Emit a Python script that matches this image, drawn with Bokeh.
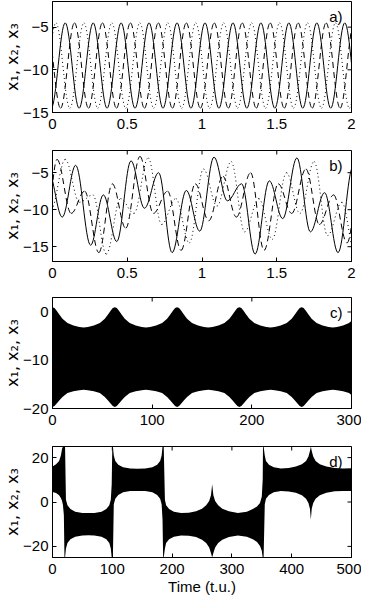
import numpy as np
from bokeh.plotting import figure
from bokeh.layouts import column
from bokeh.models import FixedTicker, Label, Range1d
from bokeh.embed import file_html
from bokeh.resources import INLINE

# ---------------- data ----------------
# panel a: extrema (time, value) of the three oscillators
a_solid_t = [-0.009, 0.085, 0.178, 0.272, 0.365, 0.459, 0.552, 0.646, 0.739, 0.833, 0.926, 1.020,
             1.113, 1.207, 1.300, 1.394, 1.487, 1.581, 1.674, 1.768, 1.861, 1.955, 2.048]
a_solid_v = [-14.5, -4.5] * 11 + [-14.5]
a_dash_t = [-0.040, 0.054, 0.147, 0.241, 0.334, 0.428, 0.521, 0.615, 0.708, 0.802, 0.895, 0.989,
            1.082, 1.176, 1.269, 1.363, 1.456, 1.550, 1.643, 1.737, 1.830, 1.924, 2.017]
a_dash_v = [-4.5, -14.5] * 11 + [-4.5]
a_dot_t = [-0.071, 0.023, 0.116, 0.210, 0.303, 0.397, 0.490, 0.584, 0.677, 0.771, 0.864, 0.958,
           1.051, 1.145, 1.238, 1.332, 1.425, 1.519, 1.612, 1.706, 1.799, 1.893, 1.986, 2.080]
a_dot_v = [-14.5, -4.5] * 12

# panel b: extrema (time, value)
b_solid_t = [-0.025, 0.065, 0.155, 0.255, 0.340, 0.430, 0.525, 0.615, 0.710, 0.800, 0.895, 0.985,
             1.080, 1.170, 1.265, 1.355, 1.450, 1.540, 1.635, 1.725, 1.820, 1.910, 2.010, 2.100]
b_solid_v = [-5.0, -11.0, -4.0, -14.8, -8.0, -14.3, -3.4, -9.8, -5.0, -15.8, -7.4, -12.9,
             -2.9, -8.8, -6.5, -16.0, -6.1, -11.2, -3.0, -13.0, -7.7, -15.8, -4.2, -12.0]
b_dash_t = [-0.030, 0.030, 0.125, 0.215, 0.310, 0.400, 0.490, 0.585, 0.675, 0.770, 0.860, 0.955,
            1.045, 1.140, 1.230, 1.325, 1.415, 1.510, 1.600, 1.695, 1.785, 1.880, 1.970, 2.060]
b_dash_v = [-10.0, -3.2, -10.5, -7.5, -15.8, -6.5, -12.5, -2.8, -10.5, -7.5, -15.5, -6.5,
            -11.5, -5.5, -11.0, -5.0, -15.5, -6.5, -10.5, -4.5, -12.0, -8.0, -14.5, -5.0]
b_dot_t = [-0.010, 0.085, 0.180, 0.270, 0.360, 0.455, 0.545, 0.640, 0.730, 0.825, 0.915, 1.010,
           1.100, 1.195, 1.285, 1.380, 1.470, 1.565, 1.655, 1.750, 1.840, 1.935, 2.025]
b_dot_v = [-10.0, -3.2, -9.0, -8.0, -16.0, -8.5, -10.5, -3.0, -12.0, -8.5, -14.5, -4.5,
           -9.5, -3.5, -13.0, -8.5, -14.0, -5.0, -10.5, -3.5, -13.5, -9.0, -16.0]

# panel c: envelope of the dense oscillation
c_t = [0, 2, 4, 7, 10, 15, 21, 27, 31.25,
       35.5, 41.5, 47.5, 52.5, 55.5, 58.5, 60.5, 62.5, 64.5, 66.5, 69.5, 72.5, 77.5, 83.5, 89.5, 93.75,
       98, 104, 110, 115, 118, 121, 123, 125, 127, 129, 132, 135, 140, 146, 152, 156.25,
       160.5, 166.5, 172.5, 177.5, 180.5, 183.5, 185.5, 187.5, 189.5, 191.5, 194.5, 197.5, 202.5, 208.5, 214.5, 218.75,
       223, 229, 235, 240, 243, 246, 248, 250, 252, 254, 257, 260, 265, 271, 277, 281.25,
       285.5, 291.5, 297.5, 300]
c_upper = [1.0, 0.8, 0.3, -0.6, -1.4, -2.3, -2.8, -3.1, -3.2,
           -3.1, -2.8, -2.3, -1.4, -0.6, 0.3, 0.8, 1.0, 0.8, 0.3, -0.6, -1.4, -2.3, -2.8, -3.1, -3.2,
           -3.1, -2.8, -2.3, -1.4, -0.6, 0.3, 0.8, 1.0, 0.8, 0.3, -0.6, -1.4, -2.3, -2.8, -3.1, -3.2,
           -3.1, -2.8, -2.3, -1.4, -0.6, 0.3, 0.8, 1.0, 0.8, 0.3, -0.6, -1.4, -2.3, -2.8, -3.1, -3.2,
           -3.1, -2.8, -2.3, -1.4, -0.6, 0.3, 0.8, 1.0, 0.8, 0.3, -0.6, -1.4, -2.3, -2.8, -3.1, -3.2,
           -3.1, -2.8, -2.3, -1.8]
c_lower = [-19.7, -19.5, -19.0, -18.3, -17.6, -16.8, -16.4, -16.2, -16.1,
           -16.2, -16.4, -16.8, -17.6, -18.3, -19.0, -19.5, -19.7, -19.5, -19.0, -18.3, -17.6, -16.8, -16.4, -16.2, -16.1,
           -16.2, -16.4, -16.8, -17.6, -18.3, -19.0, -19.5, -19.7, -19.5, -19.0, -18.3, -17.6, -16.8, -16.4, -16.2, -16.1,
           -16.2, -16.4, -16.8, -17.6, -18.3, -19.0, -19.5, -19.7, -19.5, -19.0, -18.3, -17.6, -16.8, -16.4, -16.2, -16.1,
           -16.2, -16.4, -16.8, -17.6, -18.3, -19.0, -19.5, -19.7, -19.5, -19.0, -18.3, -17.6, -16.8, -16.4, -16.2, -16.1,
           -16.2, -16.4, -16.8, -17.2]

# panel d: envelope of the dense oscillation
d_t = [0, 6, 11, 14, 16, 17.5, 19, 20, 21,
       22.5, 25, 30, 38, 50, 60, 70, 82, 90, 95, 97.5, 99, 100, 101,
       102.5, 105, 110, 118, 130, 142, 155, 167, 175, 180, 182.5, 184, 185, 186,
       188, 190, 195, 203, 215, 228, 240, 250, 257, 262, 265, 267, 269, 272, 277, 284, 295, 310,
       325, 335, 342, 347, 350, 351.5, 352, 353,
       355, 357, 362, 370, 382, 395, 407, 417, 424, 428, 430.5, 432, 433.5, 436, 440, 447, 458, 472, 486, 500]
d_upper = [16, 17, 18.5, 21, 24, 25, 25, 25, 25,
           1, -1.5, -3.2, -4.4, -4.9, -5.0, -4.9, -4.4, -3.2, -1.5, 1, 8, 25, 25,
           21, 18.5, 16.8, 15.6, 15.1, 15.0, 15.1, 15.6, 16.8, 18.5, 21, 25, 25, 25,
           1, -1.5, -3.2, -4.4, -4.9, -4.8, -4.2, -3.0, -1.5, 0.5, 3, 8, 3, 0.5, -1.5, -3.0, -4.2, -4.9,
           -4.4, -3.2, -2.0, -0.5, 2.5, 10, 25, 25,
           21, 18.5, 16.8, 15.6, 15.1, 15.3, 16.0, 17.0, 18.5, 20.5, 23, 25, 23, 20.5, 18.5, 17.0, 16.0, 15.3, 15.1, 15.2]
d_lower = [4.5, 4.0, 3.0, 1.8, 0.5, -1.5, -6, -25, -25,
           -21, -18.5, -16.8, -15.6, -15.1, -15.0, -15.1, -15.6, -16.8, -18.5, -21, -25, -25, -25,
           -1, 1.5, 3.2, 4.4, 4.9, 5.0, 4.9, 4.4, 3.2, 1.5, -1, -8, -25, -25,
           -21, -18.5, -16.8, -15.6, -15.1, -15.2, -15.8, -17.0, -18.5, -20.5, -23, -25, -23, -20.5, -18.5, -17.0, -15.8, -15.1,
           -15.6, -16.8, -18.0, -19.8, -22, -25, -25, -25,
           -1, 1.5, 3.2, 4.4, 4.9, 4.7, 4.2, 3.0, 1.5, -0.5, -3, -8, -3, -0.5, 1.5, 3.0, 4.2, 4.8, 5.0, 5.0]

# axes
ab_xticks = [0, 0.5, 1, 1.5, 2]
c_xticks = [0, 100, 200, 300]
d_xticks = [0, 100, 200, 300, 400, 500]
a_yticks = [-15, -10, -5]
b_yticks = [-15, -10, -5]
c_yticks = [-20, -10, 0]
d_yticks = [-20, 0, 20]
panel_tags = ["a)", "b)", "c)", "d)"]
y_title = "x\u2081, x\u2082, x\u2083"
x_title = "Time (t.u.)"

FONT = "Liberation Sans"
FS = "15px"
K = 0.36


def lbl(v):
    s = ("%g" % v)
    return s.replace("-", "\u2212")


def make_fig(xr, yr, xticks, yticks, top, bottom, tag, xlabel=None):
    p = figure(frame_width=299, frame_height=111, x_range=Range1d(*xr), y_range=Range1d(*yr),
               output_backend="svg", toolbar_location=None,
               min_border_left=48, min_border_right=10, min_border_top=top, min_border_bottom=bottom)
    p.grid.visible = False
    p.outline_line_color = "black"
    p.outline_line_width = 1
    p.background_fill_color = "white"
    for ax in (p.xaxis[0], p.yaxis[0]):
        ax.major_tick_in = 4
        ax.major_tick_out = 0
        ax.minor_tick_in = 0
        ax.minor_tick_out = 0
        ax.axis_line_color = "black"
        ax.major_tick_line_color = "black"
        ax.major_label_text_font = FONT
        ax.major_label_text_font_size = FS
        ax.major_label_text_color = "black"
    p.xaxis.major_label_standoff = 6
    p.yaxis.major_label_standoff = 4
    p.xaxis.ticker = FixedTicker(ticks=xticks)
    p.yaxis.ticker = FixedTicker(ticks=yticks)
    p.xaxis.major_label_overrides = {t: lbl(t) for t in xticks}
    p.yaxis.major_label_overrides = {t: lbl(t) for t in yticks}
    p.yaxis.axis_label = y_title
    p.yaxis.axis_label_text_font = "DejaVu Sans"
    p.yaxis.axis_label_text_font_size = "16px"
    p.yaxis.axis_label_text_font_style = "normal"
    p.yaxis.axis_label_text_color = "black"
    p.yaxis.axis_label_standoff = -2
    if xlabel:
        p.xaxis.axis_label = xlabel
        p.xaxis.axis_label_text_font = FONT
        p.xaxis.axis_label_text_font_size = FS
        p.xaxis.axis_label_text_font_style = "normal"
        p.xaxis.axis_label_text_color = "black"
        p.xaxis.axis_label_standoff = 1
    # inward ticks on the top and right edges of the box
    p.scatter(x=xticks, y=[yr[1]] * len(xticks), marker="dash", angle=np.pi / 2, size=8,
              line_color="black", line_width=1)
    p.scatter(x=[xr[1]] * len(yticks), y=yticks, marker="dash", size=8,
              line_color="black", line_width=1)
    p.add_layout(Label(x=xr[1], y=yr[1], x_offset=-9, y_offset=-6, text=tag,
                       text_align="right", text_baseline="top", text_font=FONT,
                       text_font_size=FS, text_color="black"))
    return p


def curve(p, t, v, dash):
    t = np.asarray(t, float)
    v = np.asarray(v, float)
    x0, x1, y0, y1 = t[:-1], t[1:], v[:-1], v[1:]
    d = x1 - x0
    p.bezier(x0=x0, y0=y0, x1=x1, y1=y1, cx0=x0 + K * d, cy0=y0, cx1=x1 - K * d, cy1=y1,
             line_color="black", line_width=1, line_dash=dash)


pa = make_fig((0, 2), (-15, -2), ab_xticks, a_yticks, 1, 22, panel_tags[0])
curve(pa, a_dot_t, a_dot_v, "1 3")
curve(pa, a_dash_t, a_dash_v, "6 4")
curve(pa, a_solid_t, a_solid_v, "solid")

pb = make_fig((0, 2), (-17, -2), ab_xticks, b_yticks, 16, 20, panel_tags[1])
curve(pb, b_dot_t, b_dot_v, "1 3")
curve(pb, b_dash_t, b_dash_v, "6 4")
curve(pb, b_solid_t, b_solid_v, "solid")

pc = make_fig((0, 300), (-20, 3), c_xticks, c_yticks, 16, 22, panel_tags[2])
pc.varea(x=c_t, y1=c_lower, y2=c_upper, fill_color="black")

pd_ = make_fig((0, 500), (-25, 25), d_xticks, d_yticks, 16, 30, panel_tags[3], xlabel=x_title)
pd_.varea(x=d_t, y1=d_lower, y2=d_upper, fill_color="black")

page = column(pa, pb, pc, pd_, spacing=0)
open("out.html", "w").write(file_html(page, INLINE))
